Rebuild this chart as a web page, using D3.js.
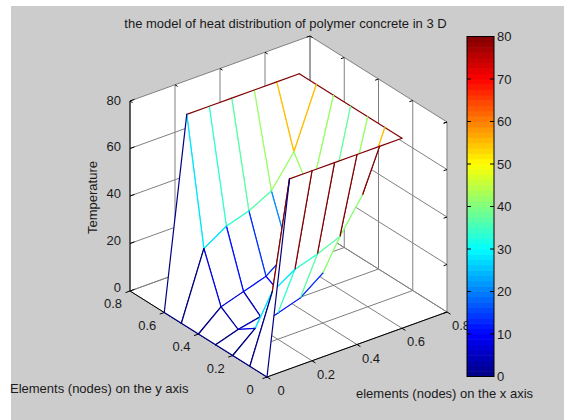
<!DOCTYPE html>
<html>
<head>
<meta charset="utf-8">
<script src="https://cdn.jsdelivr.net/npm/d3@7/dist/d3.min.js"></script>
<style>
html, body { margin: 0; padding: 0; background: #ffffff; }
svg { display: block; }
text { font-family: "Liberation Sans", Arial, sans-serif; fill: #1a1a1a; }
</style>
</head>
<body>
<svg width="564" height="420"></svg>
<script>
// Datos
const xNodes = [0, 0.1, 0.2, 0.3, 0.4, 0.5, 0.6];
const yNodes = [0, 0.1, 0.2, 0.3, 0.4, 0.5, 0.6];
// una fila por cada valor de y, una columna por cada valor de x
const row0 = [0, 80, 80, 80, 80, 80, 80];
const row1 = [0, 28, 34, 37, 41, 55, 80];
const row2 = [0, 8, 11, 14, 21, 42, 80];
const row3 = [0, 3, 5, 10, 20, 38, 80];
const row4 = [0, 8, 11, 14, 21, 42, 80];
const row5 = [0, 28, 34, 37, 42, 55, 80];
const row6 = [0, 80, 80, 80, 80, 80, 80];
const temps = [row0, row1, row2, row3, row4, row5, row6];

const xyTicks = [0, 0.2, 0.4, 0.6, 0.8];
const zTicks = [0, 20, 40, 60, 80];
const barTicks = [0, 10, 20, 30, 40, 50, 60, 70, 80];

const svg = d3.select("svg");

// Fondo gris de la figura, con margen blanco arriba y a la izquierda
svg.append("rect")
    .attr("x", 11).attr("y", 6)
    .attr("width", 553).attr("height", 414)
    .attr("fill", "#cccccc");

// Proyeccion ortografica: cada eje aporta un desplazamiento en pantalla
const xToSx = d3.scaleLinear().domain([0, 0.8]).range([0, 180]);
const xToSy = d3.scaleLinear().domain([0, 0.8]).range([0, -65]);
const yToSx = d3.scaleLinear().domain([0, 0.8]).range([0, -137]);
const yToSy = d3.scaleLinear().domain([0, 0.8]).range([0, -86]);
const zToSy = d3.scaleLinear().domain([0, 80]).range([0, -190]);
const originX = 267, originY = 377;

function proj(x, y, z) {
    return [originX + xToSx(x) + yToSx(y), originY + xToSy(x) + yToSy(y) + zToSy(z)];
}

// Mapa de color jet
const jet = d3.scaleLinear()
    .domain([0, 10, 30, 50, 70, 80])
    .range(["#000080", "#0000ff", "#00ffff", "#ffff00", "#ff0000", "#800000"])
    .clamp(true);

function addLine(g, a, b, color, w) {
    g.append("line")
        .attr("x1", a[0]).attr("y1", a[1])
        .attr("x2", b[0]).attr("y2", b[1])
        .attr("stroke", color)
        .attr("stroke-width", w);
}

// Caja: piso y dos paredes blancas
const box = svg.append("g");
[
    [[0, 0, 0], [0.8, 0, 0], [0.8, 0.8, 0], [0, 0.8, 0]],
    [[0, 0.8, 0], [0.8, 0.8, 0], [0.8, 0.8, 80], [0, 0.8, 80]],
    [[0.8, 0, 0], [0.8, 0.8, 0], [0.8, 0.8, 80], [0.8, 0, 80]]
].forEach(p => {
    box.append("polygon")
        .attr("points", p.map(d => proj(d[0], d[1], d[2]).join(",")).join(" "))
        .attr("fill", "#ffffff");
});

// Rejilla
const gridColor = "#808080";
xyTicks.forEach(t => {
    addLine(box, proj(t, 0, 0), proj(t, 0.8, 0), gridColor, 1);
    addLine(box, proj(t, 0.8, 0), proj(t, 0.8, 80), gridColor, 1);
    addLine(box, proj(0, t, 0), proj(0.8, t, 0), gridColor, 1);
    addLine(box, proj(0.8, t, 0), proj(0.8, t, 80), gridColor, 1);
});
zTicks.forEach(t => {
    addLine(box, proj(0, 0.8, t), proj(0.8, 0.8, t), gridColor, 1);
    addLine(box, proj(0.8, 0.8, t), proj(0.8, 0, t), gridColor, 1);
});

// Ejes negros y marcas
addLine(box, proj(0, 0, 0), proj(0.8, 0, 0), "#000", 1);
addLine(box, proj(0, 0, 0), proj(0, 0.8, 0), "#000", 1);
addLine(box, proj(0, 0.8, 0), proj(0, 0.8, 80), "#000", 1);
xyTicks.forEach(t => {
    addLine(box, proj(t, 0, 0), proj(t, -0.02, 0), "#000", 1);
    addLine(box, proj(0, t, 0), proj(-0.02, t, 0), "#000", 1);
    addLine(box, proj(t, 0.8, 80), proj(t, 0.785, 80), "#000", 1);
    addLine(box, proj(0.8, t, 80), proj(0.785, t, 80), "#000", 1);
});
zTicks.forEach(t => {
    addLine(box, proj(0, 0.8, t), proj(0.02, 0.8, t), "#000", 1);
    addLine(box, proj(0.8, 0, t), proj(0.785, 0, t), "#000", 1);
});

// Malla: cuadrilateros de atras hacia adelante, blancos por dentro
const cells = [];
d3.range(xNodes.length - 1).forEach(i => {
    d3.range(yNodes.length - 1).forEach(j => cells.push({ i, j }));
});
cells.sort((a, b) => (b.i + b.j) - (a.i + a.j));

const mesh = svg.append("g").attr("stroke-linecap", "round");
const node = (i, j) => proj(xNodes[i], yNodes[j], temps[j][i]);
cells.forEach(({ i, j }) => {
    const a = node(i, j), b = node(i + 1, j), c = node(i + 1, j + 1), d = node(i, j + 1);
    mesh.append("polygon")
        .attr("points", [a, b, c, d].map(p => p.join(",")).join(" "))
        .attr("fill", "#ffffff");
    addLine(mesh, b, c, jet(temps[j][i + 1]), 1.2);
    addLine(mesh, d, c, jet(temps[j + 1][i]), 1.2);
    addLine(mesh, a, d, jet(temps[j][i]), 1.2);
    addLine(mesh, a, b, jet(temps[j][i]), 1.2);
});

// Etiquetas de los ejes
const labels = svg.append("g").attr("font-size", 13);
const fmt = t => t === 0 ? "0" : String(t);
xyTicks.forEach(t => {
    const p = proj(t, 0, 0);
    labels.append("text").attr("x", p[0] + 14).attr("y", p[1] + 18)
        .attr("text-anchor", "middle").text(fmt(t));
    const q = proj(0, t, 0);
    labels.append("text").attr("x", q[0] - 17).attr("y", q[1] + 17)
        .attr("text-anchor", "middle").text(fmt(t));
});
zTicks.forEach(t => {
    const p = proj(0, 0.8, t);
    labels.append("text").attr("x", p[0] - 9).attr("y", p[1] + 3.5 - (80 - t) / 80 * 3)
        .attr("text-anchor", "end").text(t);
});

svg.append("text").attr("x", 285.5).attr("y", 27.5)
    .attr("text-anchor", "middle").attr("font-size", 13)
    .text("the model of heat distribution of polymer concrete in 3 D");
svg.append("text").attr("transform", "translate(97,197.5) rotate(-90)")
    .attr("text-anchor", "middle").attr("font-size", 13)
    .text("Temperature");
svg.append("text").attr("x", 10).attr("y", 393).attr("font-size", 13)
    .text("Elements (nodes) on the y axis");
svg.append("text").attr("x", 356).attr("y", 398).attr("font-size", 13)
    .text("elements (nodes) on the x axis");

// Barra de color
const barX = 467, barW = 27;
const barScale = d3.scaleLinear().domain([0, 80]).range([376.5, 36.5]);
const steps = d3.range(64);
svg.append("g").selectAll("rect")
    .data(steps)
    .enter().append("rect")
    .attr("x", barX)
    .attr("width", barW)
    .attr("y", d => barScale((d + 1) * 80 / 64))
    .attr("height", d => barScale(d * 80 / 64) - barScale((d + 1) * 80 / 64) + 0.5)
    .attr("fill", d => jet((d + 0.5) * 80 / 64));
svg.append("rect")
    .attr("x", barX).attr("y", barScale(80))
    .attr("width", barW).attr("height", barScale(0) - barScale(80))
    .attr("fill", "none").attr("stroke", "#000");
const barG = svg.append("g");
barTicks.forEach(t => {
    const y = barScale(t);
    addLine(barG, [barX, y], [barX + 4, y], "#000", 1);
    addLine(barG, [barX + barW - 4, y], [barX + barW, y], "#000", 1);
    barG.append("text").attr("x", barX + barW + 3).attr("y", y + 4.5)
        .attr("font-size", 13).text(t);
});
</script>
</body>
</html>
